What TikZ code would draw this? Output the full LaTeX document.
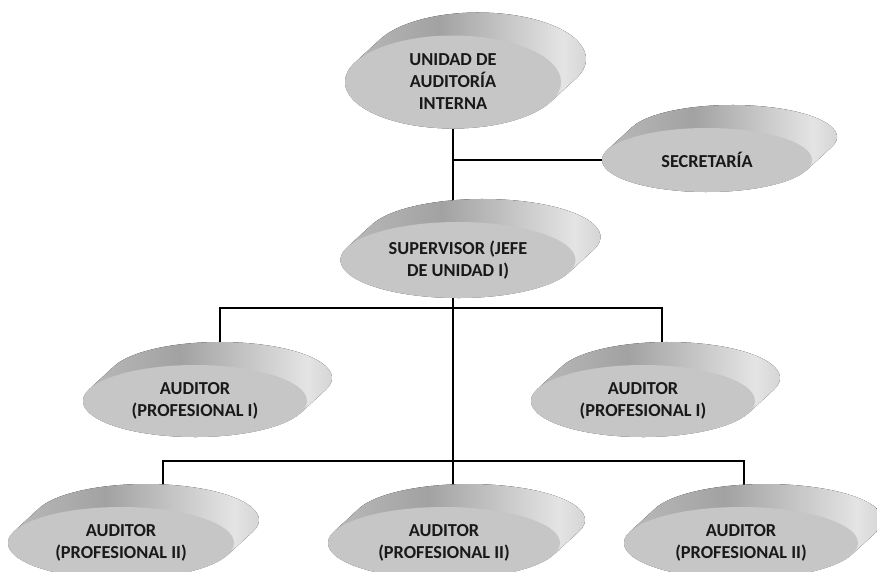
\documentclass[tikz,border=0pt]{standalone}
\usepackage{fontspec}
\setmainfont{Carlito}
\usetikzlibrary{shapes.geometric,positioning,calc}
\definecolor{discfront}{HTML}{C6C6C6}
\definecolor{sideA}{HTML}{BEBEBE}
\definecolor{sideB}{HTML}{A2A2A2}
\definecolor{sideC}{HTML}{E4E4E4}
\definecolor{sideD}{HTML}{CCCCCC}
\pgfdeclarehorizontalshading{discshade}{100bp}{color(0bp)=(sideA); color(25bp)=(sideA); color(45bp)=(sideB); color(68bp)=(sideC); color(75bp)=(sideD); color(100bp)=(sideD)}
\pgfdeclarelayer{lines}
\pgfdeclarelayer{sides}
\pgfsetlayers{lines,sides,main}

% side wall of a disc: node name, x radius, y radius (pt)
\newcommand\discside[3]{%
    \pgfmathsetmacro\tA{atan(-(#3)*25/((#2)*23))}%
    \fill [shading=discshade]
        ($(#1.center)+({(#2)*cos(\tA)*1pt},{(#3)*sin(\tA)*1pt})$) -- ++(25pt,23pt)
        arc [start angle=\tA, end angle=\tA+180, x radius=#2pt, y radius=#3pt]
        -- ($(#1.center)+({-(#2)*cos(\tA)*1pt},{-(#3)*sin(\tA)*1pt})$)
        arc [start angle=\tA+180, end angle=\tA+360, x radius=#2pt, y radius=#3pt]
        -- cycle;}

\begin{document}
\begin{tikzpicture}[
    x=1pt, y=-1pt,
    disc/.style = {ellipse, fill=discfront, inner sep=0pt, align=center, text=black!90, font=\fontsize{18.3}{22}\selectfont\bfseries},
    link/.style = {draw=black, line width=1.2pt}
]
    \useasboundingbox (0,0) rectangle (877,572);

    % 1. Jefatura
    \node [disc, minimum width=216pt, minimum height=93pt] (unidad) at (453,82) {UNIDAD DE\\AUDITORÍA\\INTERNA};
    \node [disc, minimum width=210pt, minimum height=64pt] (secretaria) at (707,160) {SECRETARÍA};
    \node [disc, minimum width=235pt, minimum height=76pt] (supervisor) at (458,260) {SUPERVISOR (JEFE\\DE UNIDAD I)};

    % 2. Auditores
    \node [disc, minimum width=224pt, minimum height=72pt] (audA) at (195,401) {AUDITOR\\(PROFESIONAL I)};
    \node [disc, minimum width=224pt, minimum height=72pt] (audB) at (643,401) {AUDITOR\\(PROFESIONAL I)};
    \node [disc, minimum width=226pt, minimum height=72pt] (audC) at (121,543) {AUDITOR\\(PROFESIONAL II)};
    \node [disc, minimum width=232pt, minimum height=72pt] (audD) at (444,543) {AUDITOR\\(PROFESIONAL II)};
    \node [disc, minimum width=234pt, minimum height=72pt] (audE) at (741,543) {AUDITOR\\(PROFESIONAL II)};

    % 3. Side walls
    \begin{pgfonlayer}{sides}
        \discside{unidad}{108}{46.5}
        \discside{secretaria}{105}{32}
        \discside{supervisor}{117.5}{38}
        \discside{audA}{112}{36}
        \discside{audB}{112}{36}
        \discside{audC}{113}{36}
        \discside{audD}{116}{36}
        \discside{audE}{117}{36}
    \end{pgfonlayer}

    % 4. Connections
    \coordinate (jA) at (220,308);
    \coordinate (jB) at (662,308);
    \coordinate (jC) at (163,461);
    \coordinate (jE) at (744,461);
    \begin{pgfonlayer}{lines}
        \draw [link] (unidad) -- (unidad |- audD);
        \draw [link] (secretaria) -- (unidad |- secretaria);
        \draw [link] (jA |- audA) -- (jA) -- (jB) -- (jB |- audB);
        \draw [link] (jC |- audC) -- (jC) -- (jE) -- (jE |- audE);
    \end{pgfonlayer}

\end{tikzpicture}
\end{document}
